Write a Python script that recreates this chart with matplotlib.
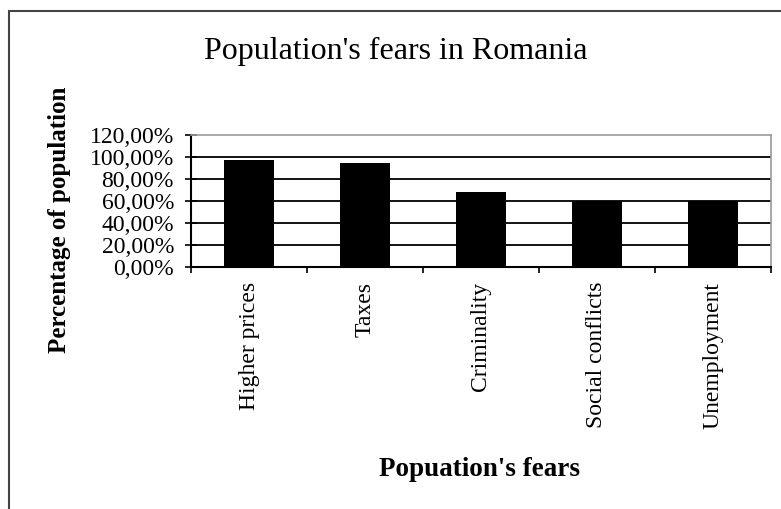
import matplotlib
matplotlib.use('Agg')
import matplotlib.pyplot as plt
from matplotlib.patches import Rectangle
from matplotlib.ticker import FixedLocator, FuncFormatter

# data
fears = ['Higher prices', 'Taxes', 'Criminality', 'Social conflicts', 'Unemployment']
shares = [97, 95, 68, 60, 60]
y_ticks = [0, 20, 40, 60, 80, 100, 120]

plt.rcParams['font.family'] = ['Liberation Serif', 'DejaVu Serif']

W, H = 781, 509
fig = plt.figure(figsize=(W / 100, H / 100), dpi=100)

# outer chart border (runs off the right and bottom of the picture)
fig.patches.append(Rectangle((9 / W, -0.1), 1.2, 1 - 11 / H + 0.1,
                             transform=fig.transFigure, fill=False,
                             edgecolor='#444444', linewidth=1.5))

ax = fig.add_axes([191 / W, 1 - 267 / H, (771 - 191) / W, (267 - 135) / H])

x = list(range(len(fears)))
ax.bar(x, shares, width=0.43, color='black', zorder=3)

ax.set_xlim(-0.5, len(fears) - 0.5)
ax.set_ylim(0, 120)

ax.yaxis.set_major_locator(FixedLocator(y_ticks))
ax.yaxis.set_major_formatter(FuncFormatter(lambda v, p: f'{v:.2f}'.replace('.', ',') + '%'))
for v in y_ticks[1:-1]:
    ax.axhline(v, color='black', linewidth=1.3, zorder=1)

ax.set_xticks(x)
ax.set_xticklabels(fears, rotation=90, fontsize=17, va='top')
ax.xaxis.set_minor_locator(FixedLocator([i - 0.5 for i in range(len(fears) + 1)]))
ax.tick_params(axis='x', which='major', length=0, pad=10.8)
ax.tick_params(axis='x', which='minor', length=4, width=1.2, direction='out')
ax.tick_params(axis='y', length=8.6, width=1.2, direction='inout', labelsize=17, pad=8)

for s in ['top', 'right']:
    ax.spines[s].set_color('#999999')
    ax.spines[s].set_linewidth(1.2)
for s in ['left', 'bottom']:
    ax.spines[s].set_color('black')
    ax.spines[s].set_linewidth(1.5)

fig.text(396 / W, 1 - 59 / H, "Population's fears in Romania", ha='center', va='baseline', fontsize=23)
fig.text(60 / W, 1 - 220 / H, 'Percentage of population', rotation=90, ha='center', va='center',
         fontsize=18, fontweight='bold')
fig.text(480 / W, 1 - 470 / H, "Popuation's fears", ha='center', va='center',
         fontsize=19.5, fontweight='bold')

fig.savefig('out.png', dpi=100)
